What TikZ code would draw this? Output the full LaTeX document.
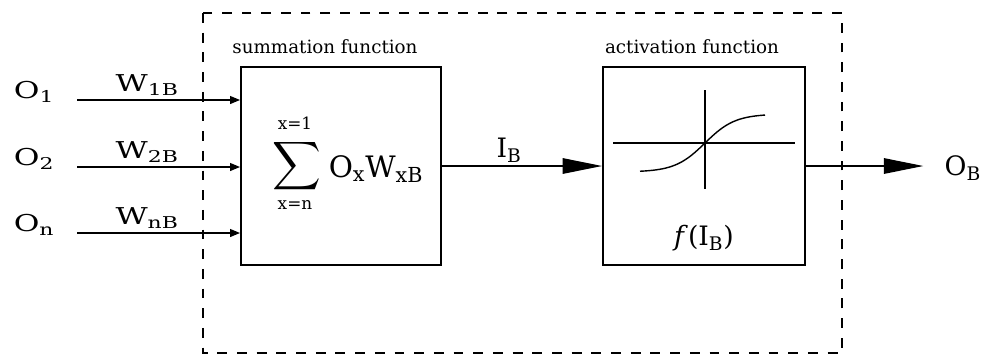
\documentclass[tikz,border=0pt]{standalone}
\usepackage{graphicx}
\usepackage{fontspec}
\setmainfont{DejaVu Serif}
\newfontfamily\widefont[FakeStretch=1.35]{DejaVu Serif}
\usetikzlibrary{arrows.meta,positioning}
\tikzset{
  block/.style={draw,line width=1.3pt,minimum width=5cm,minimum height=4.95cm},
  inarrow/.style={-{Triangle[length=7pt,width=5.5pt]},line width=1pt},
  bigarrow/.style={-{Triangle[length=28pt,width=11pt]},line width=1pt},
  inlbl/.style={font=\widefont\fontsize{16.5}{19}\selectfont,inner sep=1pt},
  lbl/.style={font=\fontsize{19}{22}\selectfont,inner sep=1pt},
  fnlabel/.style={font=\fontsize{13}{15}\selectfont,inner sep=1pt},
  lim/.style={font=\fontsize{12}{14}\selectfont,inner sep=0pt},
}
\begin{document}
\begin{tikzpicture}[x=0.025cm,y=-0.025cm]
\useasboundingbox (0,0) rectangle (989,358);
% neuron boundary
\draw[line width=1.3pt,dash pattern=on 7pt off 7pt] (203,13) rectangle (842,353);
\node[block] (sum) at (341,166) {};
\node[block,minimum width=5.05cm] (act) at (704,166) {};
\node[fnlabel] (sumlbl) at (325,47) {summation function};
\node[fnlabel] (actlbl) at (692,47) {activation function};
% inputs
\node[inlbl,anchor=east] (o1) at (56,92) {O\textsubscript{1}};
\node[inlbl,anchor=east] (o2) at (56,159) {O\textsubscript{2}};
\node[inlbl,anchor=east] (on) at (56,225) {O\textsubscript{n}};
\foreach \i/\w/\y in {o1/1B/100,o2/2B/167,on/nB/233}{
  \coordinate (\i s) at (77,\y);
  \draw[inarrow] (\i s) -- (\i s -| sum.west) node[inlbl,pos=0.43,above=2pt] {W\textsubscript{\w}};
}
% summation
\node[inner sep=0pt] (sig) at (297,166) {\scalebox{2.4}{$\displaystyle\sum$}};
\node[lim] (sigtop) at (295,123) {x=1};
\node[lim] (sigbot) at (295,205) {x=n};
\node[lbl,font=\fontsize{21}{24}\selectfont] (prod) at (376,169) {O\textsubscript{x}W\textsubscript{xB}};
\draw[bigarrow] (sum.east) -- (act.west) node[lbl,pos=0.42,above=1pt] (ib) {I\textsubscript{B}};
% activation curve
\draw[line width=1pt] (613,143) -- (795,143);
\draw[line width=1pt] (705,90) -- (705,189);
\draw[line width=1pt,domain=640:765,samples=40] plot (\x,{143-29*tanh((\x-705)/30)});
\fill (705,143) circle (1.4pt);
\node[lbl] (fib) at (704,238) {\textit{f}(I\textsubscript{B})};
% output
\node[lbl,anchor=west] (ob) at (943,168) {O\textsubscript{B}};
\draw[bigarrow] (act.east) -- ([xshift=-14pt]ob.west |- act.east);
\end{tikzpicture}
\end{document}
